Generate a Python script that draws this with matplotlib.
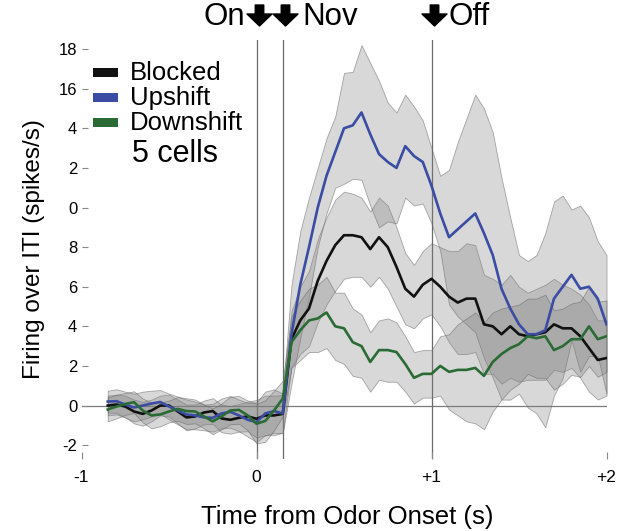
import numpy as np
import matplotlib
matplotlib.use("Agg")
import matplotlib.pyplot as plt
from matplotlib.patches import Rectangle
from matplotlib.path import Path
import matplotlib.transforms as mtransforms

plt.rcParams['font.family'] = ['Liberation Sans', 'DejaVu Sans']

# time bins (s, 50 ms) relative to odor onset
time = np.round(np.arange(-0.85, 2.0001, 0.05), 2)

blocked = [0.0, 0.05, -0.05, -0.3, -0.42, -0.25, 0.0, 0.0, -0.3, -0.6, -0.55,
           -0.35, -0.28, -0.65, -0.72, -0.62, -0.55, -0.67, -0.5, -0.5, -0.42,
           3.35, 4.3, 4.9, 6.3, 7.3, 8.1, 8.6, 8.6, 8.5, 7.9,
           8.5, 8.0, 7.0, 5.9, 5.5, 6.1, 6.4, 6.0, 5.5, 5.2,
           5.4, 5.4, 4.1, 4.0, 3.6, 4.0, 3.6, 3.5, 3.6, 3.7,
           4.1, 3.9, 3.9, 3.5, 2.9, 2.3, 2.4]
upshift = [0.2, 0.22, 0.05, -0.1, 0.0, 0.1, 0.18, -0.05, -0.25, -0.45, -0.5,
           -0.6, -0.62, -0.4, -0.32, -0.5, -0.72, -0.84, -0.4, -0.28, -0.4,
           3.6, 6.1, 8.0, 10.0, 11.6, 12.8, 14.0, 14.15, 14.8, 13.7,
           12.7, 12.3, 12.0, 13.1, 12.6, 12.3, 11.1, 9.7, 8.5, 8.9,
           9.3, 9.7, 8.7, 7.6, 5.9, 4.9, 4.1, 3.6, 3.6, 3.8,
           5.4, 6.0, 6.6, 5.9, 6.0, 5.4, 4.1]
downshift = [-0.2, -0.05, 0.08, 0.17, -0.25, -0.5, -0.45, -0.3, -0.17, -0.28, -0.3,
             -0.55, -0.8, -0.55, -0.25, -0.22, -0.5, -0.92, -0.78, -0.25, 0.35,
             3.2, 3.8, 4.3, 4.4, 4.7, 4.0, 3.9, 3.2, 3.0, 2.2,
             2.8, 2.8, 2.7, 2.1, 1.4, 1.6, 1.6, 2.0, 1.7, 1.8,
             1.8, 1.9, 1.5, 2.2, 2.6, 2.9, 3.1, 3.5, 3.4, 3.5,
             2.8, 3.0, 3.35, 3.35, 4.0, 3.35, 3.5]

# standard error of the mean across cells
blocked_sem = [0.5, 0.5, 0.55, 0.6, 0.6, 0.55, 0.5, 0.55, 0.6, 0.65, 0.6,
               0.6, 0.65, 0.7, 0.7, 0.7, 0.75, 0.95, 1.0, 1.0, 0.95,
               1.4, 1.7, 1.9, 2.1, 2.2, 2.3, 2.2, 2.1, 2.0, 1.9,
               2.0, 2.1, 2.0, 1.8, 1.6, 1.7, 1.8, 2.0, 2.3, 2.6,
               2.8, 2.7, 2.5, 2.4, 2.5, 2.6, 2.4, 2.2, 2.3, 2.4,
               2.3, 2.2, 2.0, 2.1, 2.2, 2.0, 1.9]
upshift_sem = [0.55, 0.6, 0.65, 0.7, 0.7, 0.65, 0.6, 0.65, 0.7, 0.75, 0.7,
               0.65, 0.7, 0.75, 0.8, 0.8, 0.85, 1.0, 1.1, 1.1, 1.0,
               2.5, 2.7, 2.5, 2.0, 1.9, 1.8, 2.8, 2.7, 3.4, 3.6,
               3.7, 3.0, 2.8, 2.6, 2.5, 2.1, 1.9, 1.9, 3.4, 4.4,
               5.2, 6.0, 6.3, 6.2, 5.6, 4.6, 3.5, 3.7, 4.0, 4.9,
               4.9, 4.6, 3.3, 4.2, 3.5, 2.9, 3.5]
downshift_sem = [0.6, 0.6, 0.55, 0.55, 0.6, 0.65, 0.6, 0.55, 0.6, 0.65, 0.6,
                 0.6, 0.65, 0.65, 0.7, 0.7, 0.75, 1.0, 1.05, 1.0, 0.9,
                 1.3, 1.5, 1.6, 1.7, 1.8, 1.7, 1.8, 1.7, 1.6, 1.5,
                 1.5, 1.6, 1.5, 1.4, 1.3, 1.2, 1.2, 1.5, 1.9, 2.3,
                 2.6, 2.8, 2.7, 2.5, 2.3, 2.1, 2.0, 1.9, 2.0, 2.1,
                 2.0, 1.9, 1.8, 1.9, 2.0, 1.9, 1.8]

series_names = ["Blocked", "Upshift", "Downshift"]
series_colors = ["#111111", "#3a4ca3", "#2a6b35"]
n_cells_label = "5 cells"

event_times = [0.0, 0.15, 1.0]
y_ticks = [-2, 0, 2, 4, 6, 8, 10, 12, 14, 16, 18]
y_tick_labels = ["-2", "0", "2", "4", "6", "8", "0", "2", "4", "16", "18"]
x_ticks = [-1, 0, 1, 2]
x_tick_labels = ["-1", "0", "+1", "+2"]

W, H = 623, 531
fig = plt.figure(figsize=(W / 100, H / 100), dpi=100)
ax = fig.add_axes([81.5 / W, (H - 459) / H, 525 / W, 419 / H])

ax.set_xlim(-1.0, 2.0)
ax.set_ylim(-2.70, 18.46)

for s in ax.spines.values():
    s.set_visible(False)

ax.axhline(0, color="#7a7a7a", lw=0.9, zorder=1)
for et in event_times:
    ax.axvline(et, color="#6a6a6a", lw=0.9, zorder=1)

means = [np.array(blocked), np.array(upshift), np.array(downshift)]
sems = [np.array(blocked_sem), np.array(upshift_sem), np.array(downshift_sem)]

for m, s in zip(means, sems):
    ax.fill_between(time, m - s, m + s, facecolor=(0.5, 0.5, 0.5, 0.3),
                    edgecolor=(0.4, 0.4, 0.4, 0.55), lw=0.6, zorder=2)
for m, c in zip(means, series_colors):
    ax.plot(time, m, color=c, lw=1.9, zorder=3)

ax.set_yticks(y_ticks)
ax.set_yticklabels(y_tick_labels)
ax.set_xticks(x_ticks)
ax.set_xticklabels(x_tick_labels)
ax.tick_params(axis="y", direction="in", length=4, width=0.8, color="#888888",
               labelsize=12, pad=3)
ax.tick_params(axis="x", direction="in", length=5, width=0.8, color="#888888",
               labelsize=12.5, pad=8)

ax.set_ylabel("Firing over ITI (spikes/s)", fontsize=17.5, labelpad=10)
fig.text(347 / W, (H - 524) / H, "Time from Odor Onset (s)", fontsize=18.5,
         ha="center", va="baseline")

# event markers above the plot
blend = mtransforms.blended_transform_factory(ax.transData, ax.transAxes)
arrow_verts = [(-0.17, 0.42), (0.17, 0.42), (0.17, 0.06), (0.5, 0.06),
               (0.0, -0.42), (-0.5, 0.06), (-0.17, 0.06), (-0.17, 0.42)]
arrow_path = Path(arrow_verts, [Path.MOVETO] + [Path.LINETO] * 6 + [Path.CLOSEPOLY])
arrow_shift = blend + mtransforms.ScaledTranslation(2 / 100, 0, fig.dpi_scale_trans)
ax.plot(event_times, [1.0585] * 3, linestyle="none", marker=arrow_path,
        markersize=18, color="black", transform=arrow_shift, clip_on=False)

ev_y = 1.0358
ax.annotate("On", xy=(event_times[0], ev_y), xycoords=blend, xytext=(-8.5, 0),
            textcoords="offset points", ha="right", va="baseline", fontsize=22.5)
ax.annotate("Nov", xy=(event_times[1], ev_y), xycoords=blend, xytext=(14, 0),
            textcoords="offset points", ha="left", va="baseline", fontsize=22.5)
ax.annotate("Off", xy=(event_times[2], ev_y), xycoords=blend, xytext=(12, 0),
            textcoords="offset points", ha="left", va="baseline", fontsize=22.5)

# legend
legend_rows = [72.5, 97.5, 122.5]
for name, c, yc in zip(series_names, series_colors, legend_rows):
    fig.add_artist(Rectangle((93 / W, (H - yc - 4.5) / H), 25 / W, 9 / H,
                             transform=fig.transFigure, facecolor=c, edgecolor="none"))
    fig.text(130 / W, (H - yc - 8) / H, name, fontsize=18.5, ha="left", va="baseline")
fig.text(132 / W, (H - 161.5) / H, n_cells_label, fontsize=22, ha="left", va="baseline")

fig.savefig("out.png", dpi=100)
